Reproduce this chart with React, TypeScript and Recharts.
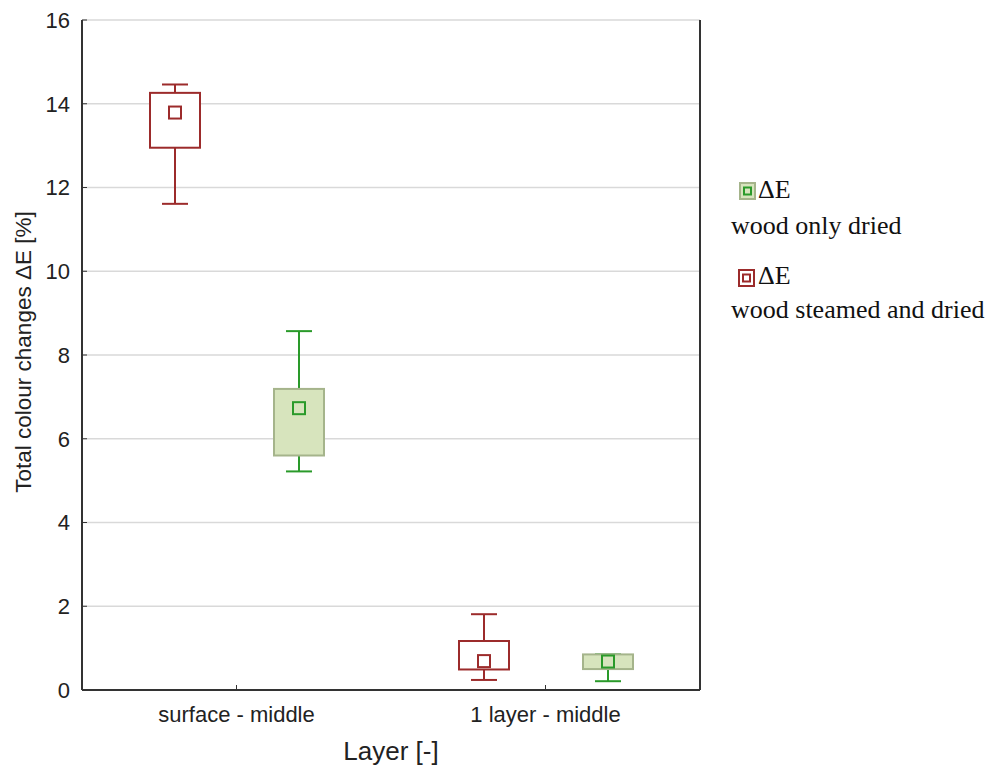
import React from "react";
import { ComposedChart, Bar, XAxis, YAxis, CartesianGrid, Legend } from "recharts";

const layers = ["surface - middle", "1 layer - middle"];

// wood steamed and dried
const steamedMin = [11.61, 0.24];
const steamedQ1 = [12.95, 0.49];
const steamedMean = [13.79, 0.69];
const steamedQ3 = [14.26, 1.17];
const steamedMax = [14.46, 1.81];

// wood only dried
const driedMin = [5.22, 0.21];
const driedQ1 = [5.6, 0.5];
const driedMean = [6.73, 0.68];
const driedQ3 = [7.19, 0.85];
const driedMax = [8.57, 0.85];

const yTicks = [0, 2, 4, 6, 8, 10, 12, 14, 16];

const RED = "#9c2b2b";
const GREEN = "#2a9a2a";
const GREEN_FILL = "#d7e4bd";
const GREEN_EDGE = "#a5b48b";
const AXIS = "#333";
const SANS = '"Liberation Sans", Arial, sans-serif';
const SERIF = '"Liberation Serif", "Times New Roman", serif';

const data = layers.map((layer, i) => ({
  layer,
  steamed: [steamedMin[i], steamedMax[i]],
  steamedStats: { min: steamedMin[i], q1: steamedQ1[i], mean: steamedMean[i], q3: steamedQ3[i], max: steamedMax[i] },
  dried: [driedMin[i], driedMax[i]],
  driedStats: { min: driedMin[i], q1: driedQ1[i], mean: driedMean[i], q3: driedQ3[i], max: driedMax[i] },
}));

type Stats = { min: number; q1: number; mean: number; q3: number; max: number };

function makeBoxShape(key: "steamedStats" | "driedStats", line: string, fill: string, edge: string) {
  return (props: any) => {
    const { x, y, width, height, payload } = props;
    const s: Stats = payload[key];
    // the bar spans min..max, so map the other stats inside it
    const top = Math.min(y, y + height);
    const bottom = Math.max(y, y + height);
    const toY = (v: number) => bottom - ((v - s.min) / (s.max - s.min)) * (bottom - top);
    const cx = x + width / 2;
    const cap = 13;
    const m = 6;
    return (
      <g>
        <line x1={cx} x2={cx} y1={toY(s.max)} y2={toY(s.q3)} stroke={line} strokeWidth={2} />
        <line x1={cx} x2={cx} y1={toY(s.q1)} y2={toY(s.min)} stroke={line} strokeWidth={2} />
        <line x1={cx - cap} x2={cx + cap} y1={toY(s.max)} y2={toY(s.max)} stroke={line} strokeWidth={2} />
        <line x1={cx - cap} x2={cx + cap} y1={toY(s.min)} y2={toY(s.min)} stroke={line} strokeWidth={2} />
        <rect x={x} y={toY(s.q3)} width={width} height={toY(s.q1) - toY(s.q3)} fill={fill} stroke={edge} strokeWidth={2} />
        <rect x={cx - m} y={toY(s.mean) - m} width={m * 2} height={m * 2} fill={fill} stroke={line} strokeWidth={2} />
      </g>
    );
  };
}

function LegendIcon({ fill, edge, line }: { fill: string; edge: string; line: string }) {
  return (
    <svg width={17} height={18} style={{ position: "absolute", left: 0, top: 0 }}>
      <rect x={1} y={1} width={15} height={16} fill={fill} stroke={edge} strokeWidth={2} />
      <rect x={5} y={5.5} width={7} height={7} fill={fill} stroke={line} strokeWidth={2} />
    </svg>
  );
}

const renderLegend = () => (
  <div style={{ position: "relative", width: 265, height: 160, fontFamily: SERIF, fontSize: 26, lineHeight: "30px", color: "#111" }}>
    <div style={{ position: "absolute", left: 14, top: 7 }}>
      <LegendIcon fill={GREEN_FILL} edge={GREEN_EDGE} line={GREEN} />
    </div>
    <div style={{ position: "absolute", left: 33, top: 0 }}>ΔE</div>
    <div style={{ position: "absolute", left: 6, top: 36, whiteSpace: "nowrap" }}>wood only dried</div>
    <div style={{ position: "absolute", left: 13, top: 94 }}>
      <LegendIcon fill="#fff" edge={RED} line={RED} />
    </div>
    <div style={{ position: "absolute", left: 33, top: 86 }}>ΔE</div>
    <div style={{ position: "absolute", left: 6, top: 120, whiteSpace: "nowrap" }}>wood steamed and dried</div>
  </div>
);

export default function App() {
  return (
    <div style={{ position: "absolute", left: 0, top: 0, background: "#fff" }}>
      <ComposedChart
        width={990}
        height={767}
        data={data}
        margin={{ top: 20, right: 0, bottom: 0, left: 0 }}
        barSize={50}
        barGap={74}
      >
        <CartesianGrid vertical={false} stroke="#d9d9d9" strokeWidth={1.5} />
        <XAxis
          dataKey="layer"
          height={77}
          axisLine={{ stroke: AXIS, strokeWidth: 2 }}
          tickLine={{ stroke: AXIS }}
          tickSize={-5}
          tickMargin={21}
          tick={{ fill: "#222", fontSize: 22, fontFamily: SANS }}
          label={{
            content: () => (
              <text x={391} y={760} textAnchor="middle" fill="#222" fontSize={26} fontFamily={SANS}>
                Layer [-]
              </text>
            ),
          }}
        />
        <XAxis
          xAxisId="top"
          dataKey="layer"
          orientation="top"
          height={0}
          axisLine={{ stroke: AXIS, strokeWidth: 2 }}
          tick={false}
          tickLine={false}
        />
        <YAxis
          type="number"
          domain={[0, 16]}
          ticks={yTicks}
          width={82}
          axisLine={{ stroke: AXIS, strokeWidth: 2 }}
          tickLine={{ stroke: AXIS }}
          tickSize={-5}
          tickMargin={17}
          tick={{ fill: "#222", fontSize: 22, fontFamily: SANS }}
          label={{
            content: () => (
              <text
                x={23}
                y={352}
                transform="rotate(-90 23 352)"
                textAnchor="middle"
                dominantBaseline="central"
                fill="#222"
                fontSize={22.5}
                fontFamily={SANS}
              >
                Total colour changes ΔE [%]
              </text>
            ),
          }}
        />
        <YAxis
          yAxisId="right"
          orientation="right"
          type="number"
          domain={[0, 16]}
          ticks={yTicks}
          width={290}
          axisLine={{ stroke: AXIS, strokeWidth: 2 }}
          tickLine={{ stroke: AXIS }}
          tickSize={-5}
          tick={false}
        />
        <Legend
          verticalAlign="middle"
          align="center"
          content={renderLegend}
          wrapperStyle={{ left: 725, top: 175, width: 265, height: 160 }}
        />
        <Bar
          dataKey="steamed"
          name="wood steamed and dried"
          shape={makeBoxShape("steamedStats", RED, "#fff", RED)}
          isAnimationActive={false}
        />
        <Bar
          dataKey="dried"
          name="wood only dried"
          shape={makeBoxShape("driedStats", GREEN, GREEN_FILL, GREEN_EDGE)}
          isAnimationActive={false}
        />
      </ComposedChart>
    </div>
  );
}
